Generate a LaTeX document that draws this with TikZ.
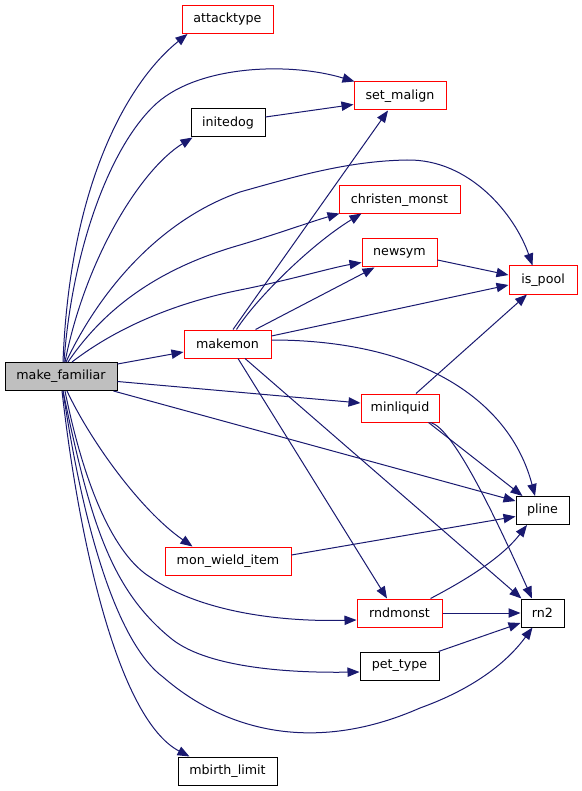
\documentclass[tikz,border=0pt]{standalone}
\usepackage{fontspec}
\setmainfont{DejaVu Sans}
\usetikzlibrary{arrows.meta,calc}
\definecolor{edgecol}{HTML}{191970}
\definecolor{grayfill}{HTML}{BFBFBF}
\begin{document}
\begin{tikzpicture}[x=0.75pt,y=-0.75pt,
  box/.style={draw=black, line width=0.75pt, rectangle, minimum height=21pt, inner sep=0pt, font=\fontsize{9.5}{11}\selectfont, fill=white},
  redbox/.style={box, draw=red},
  edge/.style={draw=edgecol, line width=0.75pt, -{Triangle[length=9pt,width=7pt]}}]
\fill[white] (0,0) rectangle (581,791);
\useasboundingbox (0,0) rectangle (581,791);
% nodes
\node[box, fill=grayfill, minimum width=84pt] (mf) at (61,376.5) {make\_familiar};
\node[redbox, minimum width=68.25pt] (at) at (227.5,19.5) {attacktype};
\node[box, minimum width=55.5pt] (id) at (228,123) {initedog};
\node[redbox, minimum width=69pt] (sm) at (400,96) {set\_malign};
\node[redbox, minimum width=90.75pt] (cm) at (399.5,200) {christen\_monst};
\node[redbox, minimum width=56.25pt] (ns) at (399.5,253) {newsym};
\node[redbox, minimum width=51pt] (ip) at (543,280) {is\_pool};
\node[redbox, minimum width=65.25pt] (mk) at (227.5,344) {makemon};
\node[redbox, minimum width=58.5pt] (ml) at (400,408) {minliquid};
\node[box, minimum width=39.75pt] (pl) at (542.5,510.5) {pline};
\node[redbox, minimum width=94.5pt] (mw) at (228,561) {mon\_wield\_item};
\node[redbox, minimum width=63.75pt] (rm) at (399.5,613) {rndmonst};
\node[box, minimum width=32.25pt] (rn) at (542.5,613) {rn2};
\node[box, minimum width=59.25pt] (pt) at (399.5,666) {pet\_type};
\node[box, minimum width=74.25pt] (mb) at (227.5,771) {mbirth\_limit};
% edges from make_familiar
\draw[edge] ($(mf.north)+(2,0)$) .. controls (70,180) and (130,80) .. ($(at.south west)+(6,0)$);
\draw[edge] ($(mf.north)+(3,0)$) .. controls (72,250) and (110,145) .. (157,103) .. controls (200,65) and (290,62) .. ($(sm.north west)+(1,0)$);
\draw[edge] ($(mf.north)+(4,0)$) .. controls (85,260) and (140,170) .. ($(id.south west)+(2,0)$);
\draw[edge] ($(mf.north)+(5,0)$) .. controls (100,290) and (160,220) .. (240,192) .. controls (300,175) and (350,161) .. (407,160) .. controls (470,159) and (515,215) .. ($(ip.north west)+(24,0)$);
\draw[edge] ($(mf.north)+(7,0)$) .. controls (110,300) and (170,265) .. (240,245) .. controls (280,233) and (310,222) .. ($(cm.south west)+(1,-1)$);
\draw[edge] ($(mf.north)+(11,0)$) .. controls (120,325) and (180,302) .. (240,290) .. controls (290,280) and (330,268) .. ($(ns.south west)+(0,-5)$);
\draw[edge] ($(mf.east)+(0,-12.5)$) -- ($(mk.west)+(0,8)$);
\draw[edge] ($(mf.east)+(0,5)$) -- ($(ml.west)+(0,-5)$);
\draw[edge] ($(mf.south east)+(-4,0)$) -- ($(pl.north west)+(0,5)$);
\draw[edge] ($(mf.south)+(6,0)$) .. controls (90,440) and (140,510) .. ($(mw.north west)+(28,0)$);
\draw[edge] ($(mf.south)+(4,0)$) .. controls (85,490) and (115,555) .. (150,577) .. controls (200,612) and (280,622) .. ($(rm.west)+(0,7)$);
\draw[edge] ($(mf.south)+(2,0)$) .. controls (90,520) and (110,590) .. (173,640) .. controls (210,668) and (290,673) .. ($(pt.west)+(0,6)$);
\draw[edge] ($(mf.south)+(2,0)$) .. controls (85,540) and (120,645) .. (163,677) .. controls (230,735) and (320,752) .. (420,708) .. controls (470,690) and (505,665) .. ($(rn.south west)+(12,0)$);
\draw[edge] ($(mf.south)+(1,0)$) .. controls (80,550) and (120,720) .. ($(mb.north west)+(12,0)$);
% other edges
\draw[edge] ($(id.east)+(0,-6)$) -- ($(sm.south west)+(0,-6)$);
\draw[edge] ($(mk.north)+(5.5,0)$) -- ($(sm.south)+(-12,0)$);
\draw[edge] ($(mk.north)+(9,0)$) .. controls (255,300) and (310,245) .. ($(cm.south west)+(23,-1)$);
\draw[edge] ($(mk.north east)+(-16,0)$) -- ($(ns.south west)+(13,0)$);
\draw[edge] ($(mk.east)+(0,-8)$) -- ($(ip.west)+(0,5)$);
\draw[edge] ($(mk.east)+(0,-4)$) .. controls (420,340) and (510,400) .. ($(pl.north)+(-7.5,0)$);
\draw[edge] ($(mk.south)+(17.5,0)$) -- ($(rn.north west)+(1,0)$);
\draw[edge] ($(mk.south)+(10.5,0)$) -- ($(rm.north)+(-12.5,0)$);
\draw[edge] ($(ns.east)+(0,7)$) -- ($(ip.west)+(0,-5)$);
\draw[edge] ($(ml.north)+(16,0)$) -- ($(ip.south)+(-16,0)$);
\draw[edge] ($(ml.south east)+(-11,0)$) -- ($(pl.north west)+(7,0)$);
\draw[edge] ($(ml.south east)+(-9,0)$) .. controls (452,428) and (490,505) .. ($(rn.north)+(-10.5,0)$);
\draw[edge] ($(mw.east)+(0,-6)$) -- ($(pl.west)+(0,6)$);
\draw[edge] ($(rm.north east)+(-12,0)$) .. controls (460,583) and (500,560) .. ($(pl.south)+(-15.5,0)$);
\draw[edge] (rm.east) -- (rn.west);
\draw[edge] ($(pt.north east)+(-1,0)$) -- ($(rn.west)+(0,10)$);
\end{tikzpicture}
\end{document}
